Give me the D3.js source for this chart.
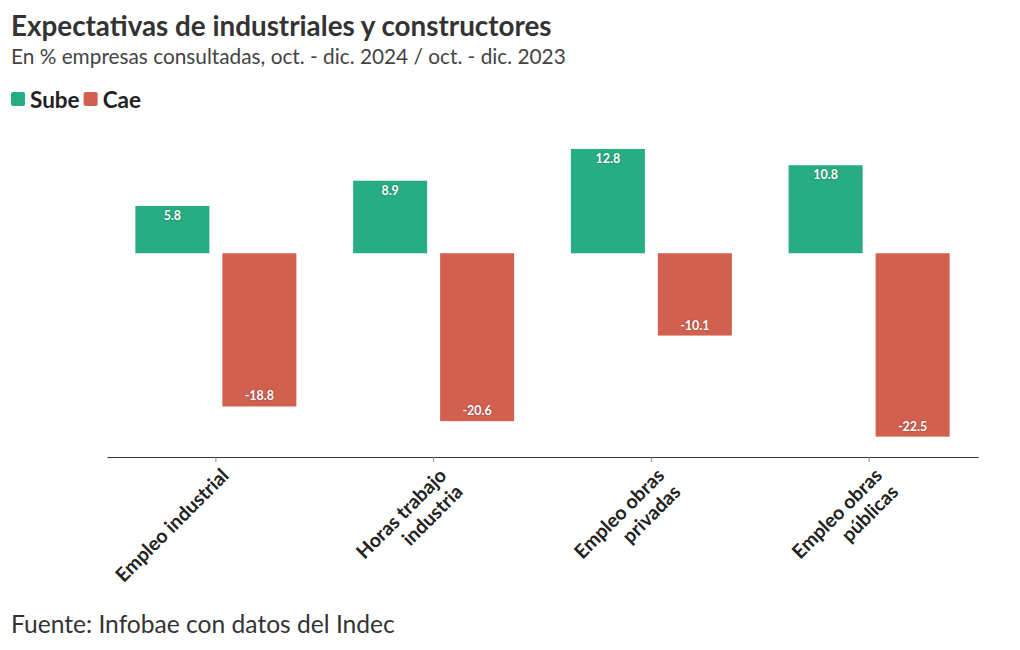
<!DOCTYPE html>
<html>
<head>
<meta charset="utf-8">
<script src="https://cdn.jsdelivr.net/npm/d3@7"></script>
<style>
  html, body { margin: 0; padding: 0; background: #fff; }
  svg { display: block; font-family: Lato, "Open Sans", sans-serif; }
</style>
</head>
<body>
<svg id="chart" width="1020" height="650"></svg>
<script>
const categories = [["Empleo industrial"], ["Horas trabajo", "industria"], ["Empleo obras", "privadas"], ["Empleo obras", "públicas"]];
const seriesNames = ["Sube", "Cae"];
const sube = [5.8, 8.9, 12.8, 10.8];
const cae = [-18.8, -20.6, -10.1, -22.5];
const colors = ["#28ac84", "#d2604f"];
const yDomain = [-25, 15];

const svg = d3.select("#chart");
const plot = { left: 107, right: 978, top: 131, bottom: 457 };

// Header
svg.append("text").attr("x", 11).attr("y", 36)
  .attr("font-size", 27.8).attr("font-weight", 700).attr("fill", "#333")
  .text("Expectativas de industriales y constructores");
svg.append("text").attr("x", 11).attr("y", 64)
  .attr("font-size", 20.8).attr("fill", "#444")
  .text("En % empresas consultadas, oct. - dic. 2024 / oct. - dic. 2023");

// Legend
let lx = 11;
seriesNames.forEach((s, i) => {
  svg.append("rect").attr("x", lx).attr("y", 92).attr("width", 14).attr("height", 14)
    .attr("rx", 2).attr("fill", colors[i]);
  const t = svg.append("text").attr("x", lx + 19).attr("y", 108)
    .attr("font-size", 22.5).attr("font-weight", 700).attr("fill", "#222").text(s);
  lx += 19 + t.node().getComputedTextLength() + 4;
});

// Scales
const keys = categories.map(c => c.join(" "));
const x0 = d3.scaleBand().domain(keys).range([plot.left, plot.right]).padding(0);
const x1 = d3.scaleBand().domain(seriesNames).range([0, x0.bandwidth()])
  .paddingInner(0.149).paddingOuter(0.326);
const y = d3.scaleLinear().domain(yDomain).range([plot.bottom, plot.top]);

const data = [];
keys.forEach((k, i) => {
  data.push({ cat: k, s: "Sube", v: sube[i], c: colors[0] });
  data.push({ cat: k, s: "Cae", v: cae[i], c: colors[1] });
});

const g = svg.append("g");
g.selectAll("rect.bar").data(data).join("rect").attr("class", "bar")
  .attr("x", d => x0(d.cat) + x1(d.s))
  .attr("width", x1.bandwidth())
  .attr("y", d => y(Math.max(0, d.v)))
  .attr("height", d => Math.abs(y(d.v) - y(0)))
  .attr("fill", d => d.c);

// Value labels
g.selectAll("text.val").data(data).join("text").attr("class", "val")
  .attr("x", d => x0(d.cat) + x1(d.s) + x1.bandwidth() / 2)
  .attr("y", d => d.v >= 0 ? y(d.v) + 14 : y(d.v) - 6)
  .attr("text-anchor", "middle")
  .attr("font-size", 12.5).attr("font-weight", 700).attr("fill", "#fff")
  .style("text-shadow", "0 0 2px rgba(0,0,0,0.35)")
  .text(d => d.v.toFixed(1));

// X axis
const axis = svg.append("g").attr("transform", `translate(0,${plot.bottom})`)
  .call(d3.axisBottom(x0).tickSize(5).tickSizeOuter(0).tickFormat(""));
axis.select(".domain").attr("stroke", "#333").attr("stroke-width", 1.2);
axis.selectAll(".tick line").attr("stroke", "#888");

const lineH = 23;
keys.forEach((k, i) => {
  const lines = categories[i];
  const cx = x0(k) + x0.bandwidth() / 2;
  const t = svg.append("text")
    .attr("transform", `translate(${cx},${plot.bottom}) rotate(-45)`)
    .attr("text-anchor", "end").attr("font-size", 19.5).attr("font-weight", 700)
    .attr("fill", "#222");
  lines.forEach((ln, j) => {
    t.append("tspan").attr("x", -4)
      .attr("y", 24 + j * lineH)
      .text(ln);
  });
});

// Source
svg.append("text").attr("x", 11).attr("y", 633)
  .attr("font-size", 24.6).attr("fill", "#333")
  .text("Fuente: Infobae con datos del Indec");
</script>
</body>
</html>
